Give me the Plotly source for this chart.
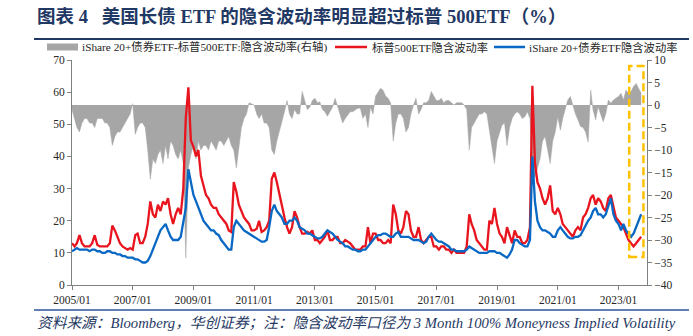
import plotly.graph_objects as go
import pandas as pd

# ---------------- data (monthly readings, 2005/01 - 2023/10) ----------------
red_spx_vol = [
    13, 12, 13, 15.5, 13, 12, 12, 12, 13, 15.5, 12.5, 12,      # 2005
    12, 12, 12, 13, 18.5, 17, 15, 13, 12, 11.5, 11, 11.5,      # 2006
    11, 15.5, 16, 13, 13, 15, 19, 26, 22, 21, 25, 23,          # 2007
    26, 25, 27, 22, 19, 22, 24, 22, 30, 52, 61.5, 45,          # 2008
    43, 40, 42, 34, 31, 28, 27, 25, 24, 24, 22, 21,            # 2009
    20, 19, 17, 16.5, 32, 29, 25, 23, 21, 20, 19, 17,          # 2010
    17, 17.5, 20, 16.5, 17, 18, 20, 33, 35, 32, 28, 24,        # 2011
    21, 18, 16, 18, 23, 21, 18, 16, 16, 16.5, 16, 17,          # 2012
    14, 14, 13, 14, 15, 17, 14, 14, 15, 15, 13, 13,            # 2013
    14, 13.5, 13, 12, 11, 11, 11, 12, 12, 18, 13, 16,          # 2014
    16, 14, 14, 13, 13, 14, 13, 25, 22, 17, 16, 18,            # 2015
    23, 22, 17, 15, 15, 18, 14, 13, 14, 15, 15, 12,            # 2016
    12, 11, 12, 12, 11, 11, 10, 11, 10, 10, 10, 10,            # 2017
    12, 22, 19, 17, 14, 13, 12, 11, 11, 20, 19, 24,            # 2018
    19, 16, 15, 13, 18, 15, 13, 17, 15, 15, 13, 13,            # 2019
    14, 18, 62, 38, 32, 30, 27, 25, 27, 31, 23, 22,            # 2020
    24, 22, 19, 18, 17, 16, 15, 17, 18, 17, 21, 22,            # 2021
    24, 27, 28, 25, 27, 26, 24, 23, 27, 28, 24, 21,            # 2022
    20, 19, 18, 16, 14, 13, 12, 13, 14, 15,                    # 2023
]
blue_tlt_vol = [
    10.5, 11, 11.5, 11, 11, 11, 11, 10.5, 11, 11, 10.5, 10.5,  # 2005
    10, 10, 10.5, 10.5, 10, 10, 9.5, 9.5, 9, 9, 8.5, 8.5,      # 2006
    8.5, 8, 8, 7.5, 7, 7, 7.5, 9, 11, 13, 15, 17,              # 2007
    18, 19, 17, 15, 14, 14, 14, 15, 19, 24, 36, 32,            # 2008
    28, 26, 24, 22, 20, 19, 18, 17, 17, 16, 15.5, 14,          # 2009
    13, 12, 11, 11, 18, 20, 19, 18, 17, 16.5, 16, 15.5,        # 2010
    15, 14.5, 14, 13.5, 13.5, 14, 18, 23, 25, 23, 22, 21,      # 2011
    19, 19, 20, 20, 21, 20, 18, 17.5, 17, 16, 16, 15.5,        # 2012
    15, 14.5, 14.5, 15, 16, 17, 16.5, 16, 15, 14, 13.5, 13,    # 2013
    12, 12, 11.5, 11, 11, 10.5, 10.5, 11, 11, 12, 13, 14,      # 2014
    15, 15.5, 15.5, 16, 16, 15.5, 15, 15, 16, 16.5, 15, 15,    # 2015
    15, 15, 14.5, 14, 14, 14, 13.5, 13, 13.5, 15, 16, 15,      # 2016
    14, 13.5, 13.5, 13, 12.5, 12, 11, 11, 10.5, 10.5, 10.5, 10.5,  # 2017
    11, 12, 11.5, 11, 10.5, 10, 10, 10, 10, 10.5, 10.5, 10.5,  # 2018
    10, 10, 9.5, 9, 8.5, 9.5, 11, 14, 14, 13, 12.5, 12,        # 2019
    12, 14, 40, 26, 20, 18, 17, 17, 16.5, 16, 15, 15,          # 2020
    17, 18, 17, 16, 15, 14.5, 14.5, 15, 15, 15.5, 17, 18,      # 2021
    20, 21, 23, 24, 22, 22, 21, 22, 25, 27, 22, 20,            # 2022
    19, 17, 19, 17, 16, 15, 16, 18, 20, 22,                    # 2023
]
gray_spread = [
    -1, -3, -5, -6, -4, -3, -3, -4, -4, -5, -3, -3,            # 2005
    -3, -4, -4, -5, -9, -7, -6, -6, -5, -4, -3, -2,            # 2006
    0.3, -6.5, -5, -4, -4, -5, -10, -16.5, -12, -13, -11, -10, # 2007
    -13, -9, -12, -8, -9, -11, -12, -10, -13, -34, -14, -11,   # 2008
    -9, -12, -8, -10, -9, -9, -10, -8, -9, -10, -8, -8,        # 2009
    -9, -8, -7, -9, -10, -14, -9, -5, -3, -2, 0.5, 0.3,        # 2010
    0, -2, -3, -2, -4, -4, -5, -10, -11, -8, -6, -4,           # 2011
    -1.5, 1, -2, -3, -1, -2, -2, 3, 1, -1, -0.5, 1,            # 2012
    1.5, 0.5, 0.7, -1, -1.5, -2.5, -1.5, -0.5, 1.5, -0.5, -2, -4,  # 2013
    -3, -2.3, -1.5, -1.5, -1, -0.7, -0.7, -3, -2, -5, -0.5, -2,    # 2014
    2, 3, 3.7, 3.3, 2, 1.5, 0.5, -8, -4, -2, -2, -3,           # 2015
    -6, -5, -2, 0, 1.5, -2, -1, 0.5, 0.5, 1, 3, 2,             # 2016
    1, 1, 1.5, 0.5, 1, 1, 0.5, 0, 0.5, 0.5, 0.5, 0,            # 2017
    -1, -10, -5, -4, -3, -2, -2, -1.5, -2, -6, -9, -13,        # 2018
    -8, -6, -4.5, -4, -9, -5, -3, -2, -1.5, -2, -3, -2.6,      # 2019
    -1.5, -3, -16, -16, -14, -12, -8, -7, -10, -13, -8, -6,    # 2020
    -2.6, -5.6, -3, -1, 1.1, 1.9, 0, -2, -3.3, -4.8, -5, -6,   # 2021
    -8.2, 3.3, -1.1, -3.3, -0.4, -1.9, -3.7, -2, 1.1, 0.4, 1.1, 1.5,  # 2022
    1.9, 2.6, 1.1, 3.3, 2.6, 3, 4.1, 4.8, 3.5, 2.6,            # 2023
]
months = pd.date_range("2005-01-01", periods=len(red_spx_vol), freq="MS")

x_tick_vals = ["2005-01-01", "2007-01-01", "2009-01-01", "2011-01-01", "2013-01-01",
               "2015-01-01", "2017-01-01", "2019-01-01", "2021-01-01", "2023-01-01"]
x_tick_text = ["2005/01", "2007/01", "2009/01", "2011/01", "2013/01",
               "2015/01", "2017/01", "2019/01", "2021/01", "2023/01"]

name_gray = "iShare 20+债券ETF-标普500ETF:隐含波动率(右轴)"
name_red = "标普500ETF隐含波动率"
name_blue = "iShare 20+债券ETF隐含波动率"
title_text = "图表 4   美国长债 ETF 的隐含波动率明显超过标普 500ETF（%）"
source_text = "资料来源：Bloomberg，华创证券；注：隐含波动率口径为 3 Month 100% Moneyness Implied Volatility"

# ---------------- styling ----------------
W, H = 693, 336
L, R, T, B = 72, 46, 60, 51
PW, PH = W - L - R, H - T - B
def px(x):  # pixel x -> paper
    return (x - L) / PW
def py(y):  # pixel y -> paper
    return (H - B - y) / PH

SERIF = "Liberation Serif, Noto Sans CJK SC, serif"
NAVY = "#1F3864"
RED = "#E8141E"
BLUE = "#0868C4"
GRAY = "#A6A6A6"
AXC = "#808080"

fig = go.Figure()
fig.add_trace(go.Scatter(x=months, y=gray_spread, name=name_gray, yaxis="y",
                         mode="lines", line=dict(color=GRAY, width=0.5),
                         fill="tozeroy", fillcolor=GRAY, showlegend=False))
fig.add_trace(go.Scatter(x=months, y=red_spx_vol, name=name_red, yaxis="y2",
                         mode="lines", line=dict(color=RED, width=2.3), showlegend=False))
fig.add_trace(go.Scatter(x=months, y=blue_tlt_vol, name=name_blue, yaxis="y2",
                         mode="lines", line=dict(color=BLUE, width=2.3), showlegend=False))

shapes = []
annotations = []
# title & rules
annotations.append(dict(xref="paper", yref="paper", x=px(35), y=py(16), xanchor="left",
                        yanchor="middle", showarrow=False,
                        text="<b>" + title_text + "</b>",
                        font=dict(family=SERIF, size=18.5, color=NAVY)))
shapes.append(dict(type="line", xref="paper", yref="paper", x0=px(34), x1=px(689),
                   y0=py(39), y1=py(39), line=dict(color=NAVY, width=2)))
shapes.append(dict(type="line", xref="paper", yref="paper", x0=px(34), x1=px(689),
                   y0=py(310), y1=py(310), line=dict(color="#2F5597", width=1.5)))
annotations.append(dict(xref="paper", yref="paper", x=px(35), y=py(323), xanchor="left",
                        yanchor="middle", showarrow=False, text="<i>" + source_text + "</i>",
                        font=dict(family=SERIF, size=14.7, color=NAVY)))
# legend (manual)
LY = 47
shapes.append(dict(type="rect", xref="paper", yref="paper", x0=px(47), x1=px(78),
                   y0=py(50.5), y1=py(43.5), fillcolor=GRAY, line=dict(width=0)))
shapes.append(dict(type="line", xref="paper", yref="paper", x0=px(335), x1=px(367),
                   y0=py(LY), y1=py(LY), line=dict(color=RED, width=2.5)))
shapes.append(dict(type="line", xref="paper", yref="paper", x0=px(494), x1=px(525),
                   y0=py(LY), y1=py(LY), line=dict(color=BLUE, width=2.5)))
for xx, tt in [(80, name_gray), (370, name_red), (527, name_blue)]:
    annotations.append(dict(xref="paper", yref="paper", x=px(xx), y=py(LY), xanchor="left",
                            yanchor="middle", showarrow=False, text=tt,
                            font=dict(family=SERIF, size=11.3, color="#262626")))
# highlight box
shapes.append(dict(type="rect", xref="x", yref="y2", x0="2023-05-10", x1="2023-10-28",
                   y0=8.7, y1=68.1, line=dict(color="#FFC000", width=2.5, dash="8px,4px"),
                   fillcolor="rgba(0,0,0,0)"))

fig.update_layout(
    width=W, height=H, margin=dict(l=L, r=R, t=T, b=B),
    paper_bgcolor="white", plot_bgcolor="white",
    showlegend=False,
    font=dict(family=SERIF, size=11.5, color="#262626"),
    xaxis=dict(type="date", range=["2005-01-01", "2023-12-10"],
               tickvals=x_tick_vals, ticktext=x_tick_text,
               showgrid=False, zeroline=False, showline=True, linecolor=AXC, linewidth=1,
               ticks="outside", ticklen=4, tickcolor=AXC,
               tickfont=dict(family=SERIF, size=11.5, color="#262626")),
    yaxis=dict(side="right", range=[-40, 10], dtick=5, tick0=0,
               showgrid=False, zeroline=False, showline=True, linecolor=AXC, linewidth=1,
               ticks="outside", ticklen=4, tickcolor=AXC,
               tickfont=dict(family=SERIF, size=11.5, color="#262626")),
    yaxis2=dict(side="left", overlaying="y", range=[0, 70], dtick=10,
                showgrid=False, zeroline=False, showline=True, linecolor=AXC, linewidth=1,
                ticks="outside", ticklen=4, tickcolor=AXC,
                tickfont=dict(family=SERIF, size=11.5, color="#262626")),
    shapes=shapes, annotations=annotations,
)
fig.write_html("out.html")
